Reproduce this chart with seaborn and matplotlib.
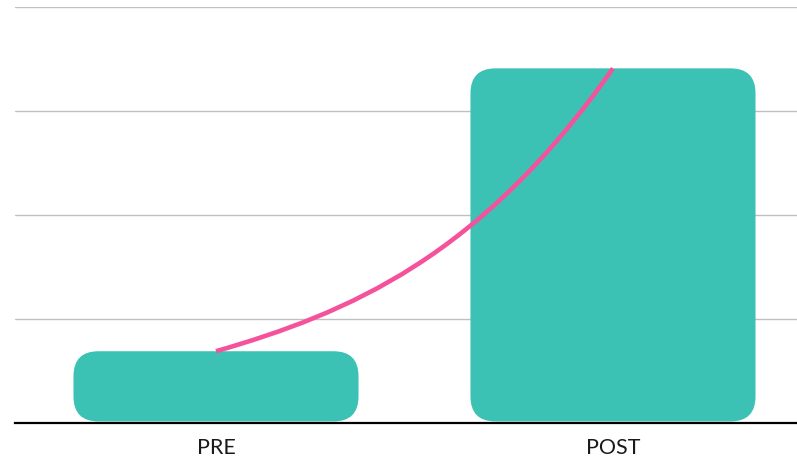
import matplotlib
matplotlib.use("Agg")
import matplotlib.pyplot as plt
import seaborn as sns
import pandas as pd
import numpy as np
from matplotlib.patches import FancyBboxPatch, PathPatch
from matplotlib.path import Path

categories = ["PRE", "POST"]
values = [6.9, 34.1]
yticks = [0, 10, 20, 30, 40]

BAR = "#3CC2B5"
PINK = "#F5529C"

sns.set_theme(style="white")
plt.rcParams["font.family"] = ["Lato", "DejaVu Sans"]

W, H = 797, 458
fig = plt.figure(figsize=(W / 100, H / 100), dpi=100)
left_px, right_px, top_px, base_px = 15, 797, 7, 423
ax = fig.add_axes([left_px / W, (H - base_px) / H, (right_px - left_px) / W, (base_px - top_px) / H])

df = pd.DataFrame({"cat": categories, "val": values})
sns.barplot(data=df, x="cat", y="val", color=BAR, width=0.718, ax=ax, saturation=1)

unit = 397.0
ax.set_xlim(-(216 - left_px) / unit, (right_px - 216) / unit)
ax.set_ylim(0, 40)
ax.set_yticks(yticks)
ax.set_yticklabels([])
ax.tick_params(axis="y", length=0)
ax.tick_params(axis="x", length=0, pad=11)
for lbl in ax.get_xticklabels():
    lbl.set_fontsize(15.5)
    lbl.set_color("#1a1a1a")
    lbl.set_fontweight("normal")
ax.set_xlabel("")
ax.set_ylabel("")
for s in ["top", "right", "left"]:
    ax.spines[s].set_visible(False)
ax.spines["bottom"].set_color("black")
ax.spines["bottom"].set_linewidth(1.6)
ax.spines["bottom"].set_zorder(5)
ax.yaxis.grid(True, color="#c0c0c0", linewidth=1)
ax.set_axisbelow(True)

# replace bars with rounded ones
ppx = 104 / 10.0  # pixels per y unit
rx = 25 / unit
ry = 25 / ppx
tops = []
for p in list(ax.patches):
    x0, y0 = p.get_x(), p.get_y()
    w, h = p.get_width(), p.get_height()
    p.remove()
    fb = FancyBboxPatch((x0, y0 + 0.15), w, h - 0.15,
                        boxstyle=f"round,pad=0,rounding_size={rx}",
                        mutation_aspect=ry / rx, facecolor=BAR, edgecolor="none", zorder=2)
    ax.add_patch(fb)
    tops.append((x0 + w / 2, y0 + h))

# connector curve between bar tops (cubic Bezier, exponential-like)
(x0, y0), (x1, y1) = tops
k = np.log(y1 / y0) / (x1 - x0)
d0, d1 = y0 * k, y1 * k
dx = (x1 - x0) / 3
verts = [(x0, y0), (x0 + dx, y0 + d0 * dx), (x1 - dx, y1 - d1 * dx), (x1, y1)]
path = Path(verts, [Path.MOVETO, Path.CURVE4, Path.CURVE4, Path.CURVE4])
ax.add_patch(PathPatch(path, facecolor="none", edgecolor=PINK, linewidth=3.3, zorder=4, capstyle="butt"))

fig.savefig("out.png", dpi=100)
